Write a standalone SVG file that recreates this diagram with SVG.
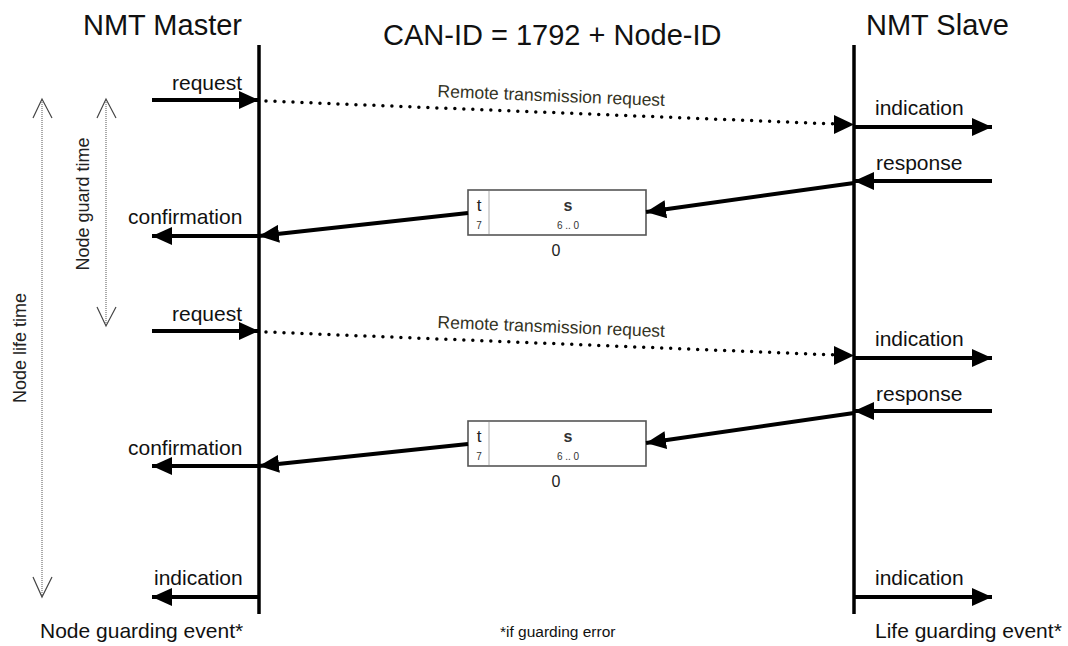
<svg xmlns="http://www.w3.org/2000/svg" width="1068" height="646" viewBox="0 0 1068 646">
<style>
text{font-family:"Liberation Sans",Arial,sans-serif;fill:#111}
.title{font-size:29px}
.lbl{font-size:21px}
.rtr{font-size:17.5px;fill:#33331f}
.side{font-size:18px;fill:#222}
.foot{font-size:21px}
.small{font-size:15.5px}
.life{stroke:#000;stroke-width:3.5;fill:none}
.arr{stroke:#000;stroke-width:4;fill:none;marker-end:url(#ah)}
.dot{stroke:#000;stroke-width:3.5;stroke-linecap:round;stroke-dasharray:0 9;fill:none}
.box{fill:#fff;stroke:#555;stroke-width:1.6}
.div{stroke:#aaa;stroke-width:1}
.bt{font-size:17px;text-anchor:middle;fill:#222}
.bs{font-size:16px;font-weight:bold;text-anchor:middle;fill:#333}
.bn{font-size:10px;text-anchor:middle;fill:#333}
.bz{font-size:16px;text-anchor:middle;fill:#222}
.span{stroke:#555;stroke-width:1;stroke-dasharray:1 1;fill:none}
.vee{stroke:#444;stroke-width:1.2;fill:none}
</style>
<defs>
<marker id="ah" markerUnits="userSpaceOnUse" markerWidth="20" markerHeight="18" refX="20" refY="9" orient="auto">
<path d="M0,0 L20,9 L0,18 z" fill="#000"/>
</marker>
</defs>

<g id="titles">
<text class="title" x="83" y="35">NMT Master</text>
<text class="title" x="383" y="45">CAN-ID = 1792 + Node-ID</text>
<text class="title" x="866" y="35">NMT Slave</text>
</g>

<g id="master">
<line class="life" x1="259" y1="45" x2="259" y2="614"/>
</g>
<g id="slave">
<line class="life" x1="854" y1="45" x2="854" y2="614"/>
</g>

<g id="box1">
<rect class="box" x="468" y="190" width="178" height="45"/>
<line class="div" x1="489" y1="191" x2="489" y2="234"/>
<text class="bt" x="479" y="211">t</text>
<text class="bn" x="479" y="229">7</text>
<text class="bs" x="568" y="211">s</text>
<text class="bn" x="568" y="229">6 .. 0</text>
<text class="bz" x="556" y="256">0</text>
</g>
<g id="box2">
<rect class="box" x="468" y="421" width="178" height="45"/>
<line class="div" x1="489" y1="422" x2="489" y2="465"/>
<text class="bt" x="479" y="442">t</text>
<text class="bn" x="479" y="460">7</text>
<text class="bs" x="568" y="442">s</text>
<text class="bn" x="568" y="460">6 .. 0</text>
<text class="bz" x="556" y="487">0</text>
</g>

<g id="connectors">
<!-- cycle 1 -->
<line class="arr" x1="152" y1="100" x2="259" y2="100"/>
<line class="dot" x1="266" y1="101" x2="836" y2="124"/>
<path d="M834,115 L854,124.5 L834,134 z" fill="#000"/>
<line class="arr" x1="854" y1="127" x2="992" y2="127"/>
<line class="arr" x1="992" y1="181" x2="854" y2="181"/>
<line class="arr" x1="854" y1="183" x2="646" y2="212"/>
<line class="arr" x1="468" y1="213" x2="259" y2="236"/>
<line class="arr" x1="259" y1="236" x2="152" y2="236"/>
<!-- cycle 2 -->
<line class="arr" x1="152" y1="331" x2="259" y2="331"/>
<line class="dot" x1="266" y1="332" x2="836" y2="355"/>
<path d="M834,346 L854,355.5 L834,365 z" fill="#000"/>
<line class="arr" x1="854" y1="358" x2="992" y2="358"/>
<line class="arr" x1="992" y1="411" x2="854" y2="411"/>
<line class="arr" x1="854" y1="413" x2="646" y2="443"/>
<line class="arr" x1="468" y1="444" x2="259" y2="466"/>
<line class="arr" x1="259" y1="466" x2="152" y2="466"/>
<!-- events -->
<line class="arr" x1="259" y1="597" x2="152" y2="597"/>
<line class="arr" x1="854" y1="597" x2="992" y2="597"/>
</g>

<g id="labels">
<text class="lbl" x="172" y="90">request</text>
<text class="rtr" transform="translate(551,101.5) rotate(2.3)" text-anchor="middle">Remote transmission request</text>
<text class="lbl" x="875" y="115">indication</text>
<text class="lbl" x="876" y="170">response</text>
<text class="lbl" x="128" y="224">confirmation</text>
<text class="lbl" x="172" y="321">request</text>
<text class="rtr" transform="translate(551,332.5) rotate(2.3)" text-anchor="middle">Remote transmission request</text>
<text class="lbl" x="875" y="346">indication</text>
<text class="lbl" x="876" y="401">response</text>
<text class="lbl" x="128" y="455">confirmation</text>
<text class="lbl" x="154" y="585">indication</text>
<text class="lbl" x="875" y="585">indication</text>
</g>

<g id="footer">
<text class="foot" x="40" y="638">Node guarding event*</text>
<text class="small" x="500" y="637">*if guarding error</text>
<text class="foot" x="875" y="638">Life guarding event*</text>
</g>

<g id="node-life-time">
<line class="span" x1="42" y1="100" x2="42" y2="596"/>
<polyline class="vee" points="33,118 42,99 52,118"/>
<polyline class="vee" points="33,577 42,597 52,577"/>
<text class="side" transform="translate(26,348) rotate(-90)" text-anchor="middle">Node life time</text>
</g>
<g id="node-guard-time">
<line class="span" x1="106" y1="100" x2="106" y2="325"/>
<polyline class="vee" points="97,118 106,99 116,118"/>
<polyline class="vee" points="97,307 106,326 116,307"/>
<text class="side" transform="translate(89,204) rotate(-90)" text-anchor="middle">Node guard time</text>
</g>
</svg>
